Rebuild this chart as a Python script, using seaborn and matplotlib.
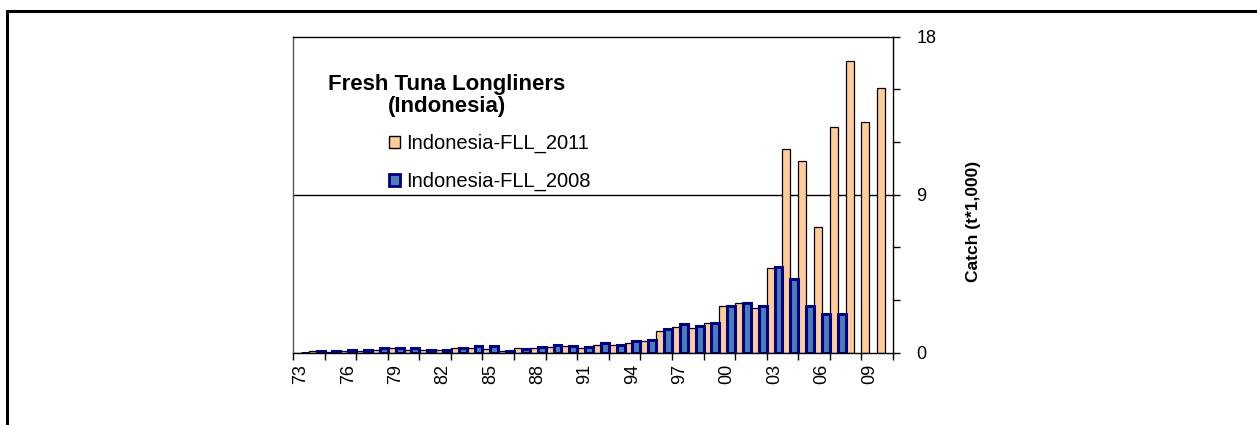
import numpy as np
import pandas as pd
import matplotlib
matplotlib.use("Agg")
import matplotlib.pyplot as plt
import seaborn as sns
from matplotlib.lines import Line2D
from matplotlib.patches import Patch
from matplotlib.ticker import FixedLocator

# ---------------- data ----------------
years = list(range(1973, 2011))
fll_2011 = [0.0, 0.08, 0.06, 0.10, 0.11, 0.15, 0.25, 0.15, 0.15, 0.15,
            0.27, 0.27, 0.20, 0.10, 0.29, 0.29, 0.34, 0.38, 0.25, 0.44,
            0.44, 0.57, 0.65, 1.22, 1.48, 1.41, 1.71, 2.66, 2.85, 2.55,
            4.81, 11.60, 10.94, 7.18, 12.88, 16.62, 13.16, 15.10]
fll_2008 = [0.0, 0.10, 0.08, 0.17, 0.17, 0.27, 0.27, 0.27, 0.17, 0.17,
            0.27, 0.36, 0.36, 0.10, 0.23, 0.34, 0.44, 0.36, 0.34, 0.57,
            0.44, 0.65, 0.72, 1.33, 1.62, 1.50, 1.71, 2.66, 2.85, 2.66,
            4.88, 4.20, 2.66, 2.18, 2.18, np.nan, np.nan, np.nan]
series_names = ["Indonesia-FLL_2011", "Indonesia-FLL_2008"]
tick_years = years[::3]
tick_labels = [f"{y % 100:02d}" for y in tick_years]
title_text = "Fresh Tuna Longliners\n(Indonesia)"
ylabel_text = "Catch (t*1,000)"

df = pd.concat([
    pd.DataFrame({"year": years, "catch": fll_2011, "series": series_names[0]}),
    pd.DataFrame({"year": years, "catch": fll_2008, "series": series_names[1]}),
]).dropna()

# ---------------- style ----------------
sns.set_style("white")
plt.rcParams["font.family"] = ["Liberation Sans", "DejaVu Sans"]
plt.rcParams["text.color"] = "black"
plt.rcParams["axes.labelcolor"] = "black"
plt.rcParams["xtick.color"] = "black"
plt.rcParams["ytick.color"] = "black"

peach = "#FFCC99"
blue_fill = "#4A7EBB"
navy = "#000080"

W, H = 1257, 425
fig = plt.figure(figsize=(W / 100, H / 100), dpi=100)
ax = fig.add_axes([293 / W, (H - 352.7) / H, 600 / W, (352.7 - 36.7) / H])

sns.barplot(data=df, x="year", y="catch", hue="series", hue_order=series_names,
            palette=[peach, blue_fill], width=1.0, gap=0, ax=ax,
            legend=False, errorbar=None, saturation=1)

for cont, ec, lw in zip(ax.containers, ["black", navy], [0.9, 2.2]):
    for bar in cont:
        bar.set_edgecolor(ec)
        bar.set_linewidth(lw)

# ---------------- axes ----------------
ax.set_xlim(-0.5, len(years) - 0.5)
ax.set_ylim(0, 18)

# y on right
ax.yaxis.tick_right()
ax.yaxis.set_label_position("right")
ax.yaxis.set_major_locator(FixedLocator([0, 9, 18]))
ax.yaxis.set_minor_locator(FixedLocator([3, 6, 12, 15]))
ax.tick_params(axis="y", which="both", direction="out", length=5, width=1,
               color="black", labelcolor="black", labelsize=13, pad=12,
               right=True, left=False)
ax.set_ylabel(ylabel_text, fontsize=12.5, fontweight="bold", color="black")
ax.yaxis.set_label_coords((966 - 293) / 600, (352.7 - 221) / 316)

# x categorical labels every 3 years, tick marks every 2 categories
ax.xaxis.set_major_locator(FixedLocator([years.index(y) for y in tick_years]))
ax.set_xticklabels(tick_labels, rotation=90, fontsize=13, color="black")
ax.xaxis.set_minor_locator(FixedLocator(np.arange(-0.5, len(years), 2)))
ax.tick_params(axis="x", which="major", length=0, pad=8)
ax.tick_params(axis="x", which="minor", direction="out", length=5, width=1,
               color="black", bottom=True)
ax.set_xlabel("")

ax.grid(False)
ax.axhline(9, color="black", lw=1.0, zorder=0.5)
for s in ax.spines.values():
    s.set_visible(True)
    s.set_color("black")
    s.set_linewidth(1.0)
ax.spines["left"].set_color("#555555")

# title
fig.text(446.7 / W, 1 - 95.5 / H, title_text, ha="center", va="center",
         fontsize=16, fontweight="bold", linespacing=1.1, color="black")

# legend
handles = [Patch(facecolor=peach, edgecolor="black", lw=1.0),
           Patch(facecolor=blue_fill, edgecolor=navy, lw=2.0)]
leg = fig.legend(handles, series_names, loc="center left",
                 bbox_to_anchor=(389 / W, 1 - 162.5 / H), frameon=False,
                 fontsize=14.5, handlelength=0.55, handleheight=0.55,
                 handletextpad=0.3, labelspacing=0.92, borderaxespad=0,
                 borderpad=0)
for t in leg.get_texts():
    t.set_color("black")

# outer frame (top and left edges)
fig.add_artist(Line2D([7 / W, 1.0], [1 - 11 / H, 1 - 11 / H], color="black",
                      lw=2.2, transform=fig.transFigure))
fig.add_artist(Line2D([7 / W, 7 / W], [1 - 11 / H, 0.0], color="black",
                      lw=2.2, transform=fig.transFigure))

fig.savefig("out.png", dpi=100)
